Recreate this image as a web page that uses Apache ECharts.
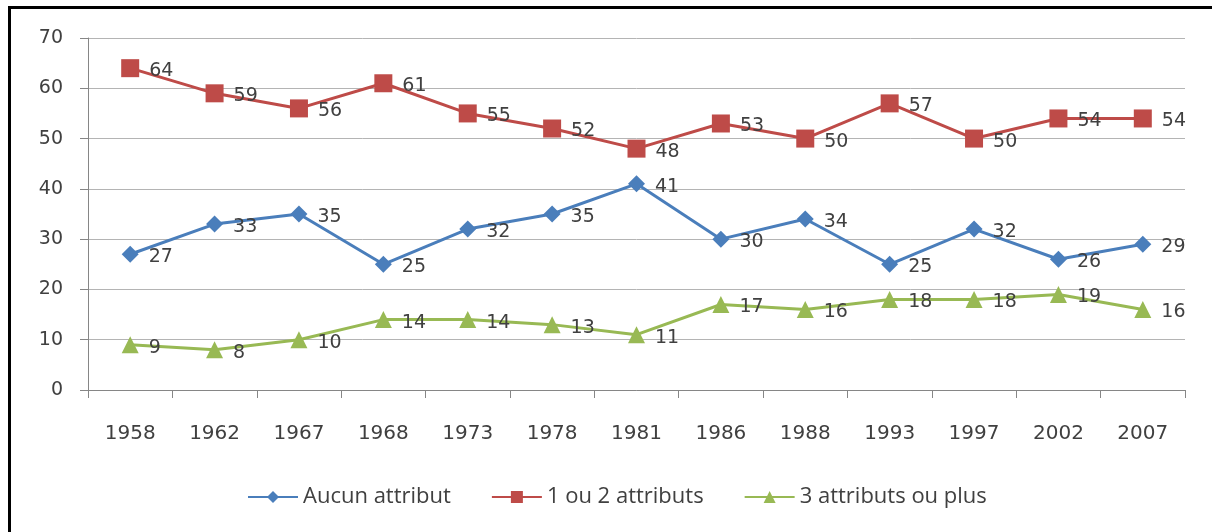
<!DOCTYPE html>
<html>
<head>
<meta charset="utf-8">
<script src="https://cdn.jsdelivr.net/npm/echarts@6/dist/echarts.min.js"></script>
<style>
html, body { margin: 0; padding: 0; background: #fff; }
#frame {
    position: absolute; left: 8px; top: 6px; width: 1220px; height: 540px;
    border: 3px solid #000; box-sizing: border-box;
}
#chart { position: absolute; left: 0; top: 0; width: 1212px; height: 532px; }
</style>
</head>
<body>
<div id="frame"></div>
<div id="chart"></div>
<script>
const years = ['1958', '1962', '1967', '1968', '1973', '1978', '1981', '1986', '1988', '1993', '1997', '2002', '2007'];
const aucun = [27, 33, 35, 25, 32, 35, 41, 30, 34, 25, 32, 26, 29];
const unOuDeux = [64, 59, 56, 61, 55, 52, 48, 53, 50, 57, 50, 54, 54];
const troisPlus = [9, 8, 10, 14, 14, 13, 11, 17, 16, 18, 18, 19, 16];

const labelStyle = {
    show: true,
    position: 'right',
    distance: 10,
    offset: [0, 3],
    color: '#404040',
    fontSize: 19,
    fontFamily: 'DejaVu Sans'
};

function makeSeries(name, data, color, symbol, size) {
    return {
        name: name,
        type: 'line',
        data: data,
        symbol: symbol,
        symbolSize: size,
        color: color,
        lineStyle: { width: 3, color: color },
        itemStyle: { color: color },
        label: labelStyle,
        animation: false
    };
}

const chart = echarts.init(document.getElementById('chart'));
chart.setOption({
    backgroundColor: 'transparent',
    grid: { left: 88, right: 27, top: 38, bottom: 142 },
    legend: {
        bottom: 19,
        left: 242,
        itemWidth: 50,
        itemHeight: 15,
        itemGap: 40,
        textStyle: { color: '#404040', fontSize: 22, fontFamily: 'Open Sans' },
        data: ['Aucun attribut', '1 ou 2 attributs', '3 attributs ou plus']
    },
    xAxis: {
        type: 'category',
        data: years,
        boundaryGap: true,
        axisLine: { lineStyle: { color: '#868686', width: 1 } },
        axisTick: { show: true, length: 8, lineStyle: { color: '#868686' } },
        axisLabel: { color: '#404040', fontSize: 20, margin: 34, fontFamily: 'DejaVu Sans' }
    },
    yAxis: {
        type: 'value',
        min: 0,
        max: 70,
        interval: 10,
        axisLine: { show: true, lineStyle: { color: '#868686' } },
        axisTick: { show: true, length: 8, lineStyle: { color: '#868686' } },
        axisLabel: { color: '#404040', fontSize: 19, margin: 25, fontFamily: 'DejaVu Sans' },
        splitLine: { lineStyle: { color: '#b4b4b4' } }
    },
    series: [
        makeSeries('Aucun attribut', aucun, '#4a7ebb', 'diamond', 17),
        makeSeries('1 ou 2 attributs', unOuDeux, '#be4b48', 'rect', 18),
        makeSeries('3 attributs ou plus', troisPlus, '#98b954', 'triangle', 17)
    ]
});
</script>
</body>
</html>
